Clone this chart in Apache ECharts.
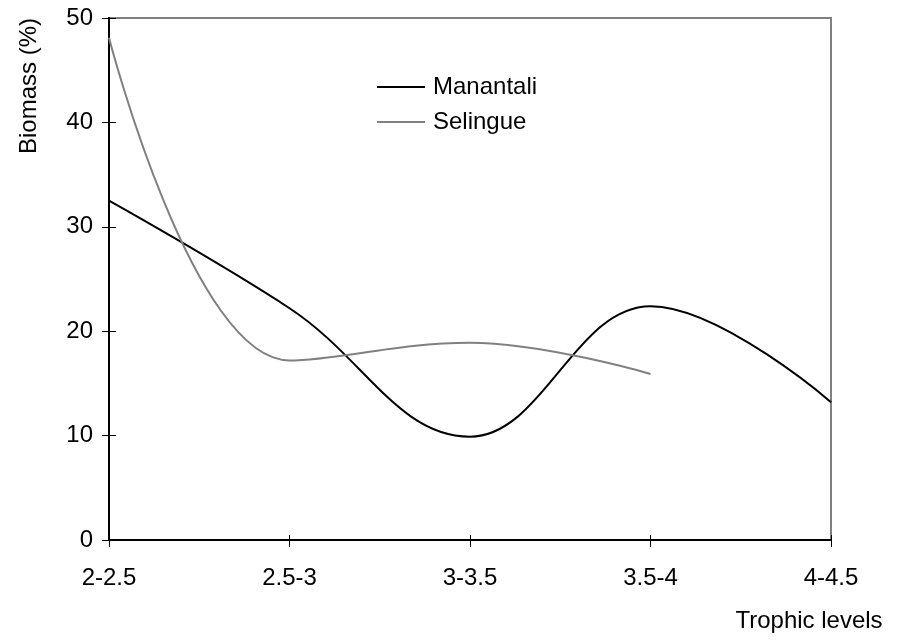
<!DOCTYPE html>
<html>
<head>
<meta charset="utf-8">
<script src="https://cdn.jsdelivr.net/npm/echarts@6/dist/echarts.min.js"></script>
<style>
  html, body { margin: 0; padding: 0; background: #fff; }
  #chart { width: 899px; height: 644px; }
</style>
</head>
<body>
<div id="chart"></div>
<script>
// trophic level classes on the x axis
var categories = ['2-2.5', '2.5-3', '3-3.5', '3.5-4', '4-4.5'];
// biomass (%) per class
var manantali = [32.5, 22.2, 9.9, 22.4, 13.2];
var selingue = [48.1, 17.2, 18.9, 15.9];

var font = 'Liberation Sans, Arial, sans-serif';

var myChart = echarts.init(document.getElementById('chart'));
var option = {
    backgroundColor: '#fff',
    animation: false,
    textStyle: { fontFamily: font, color: '#000' },
    grid: {
        left: 109, right: 68, top: 18, bottom: 104,
        show: true,
        borderColor: '#808080',
        borderWidth: 2,
        backgroundColor: 'transparent'
    },
    legend: {
        orient: 'vertical',
        left: 377,
        top: 75,
        icon: 'rect',
        itemWidth: 48,
        itemHeight: 2,
        itemGap: 11,
        padding: 0,
        textStyle: { fontFamily: font, fontSize: 24, color: '#000', padding: [0, 0, 0, 3] },
        data: ['Manantali', 'Selingue']
    },
    xAxis: [{
        type: 'category',
        data: categories,
        boundaryGap: false,
        axisLine: { lineStyle: { color: '#000', width: 2 } },
        axisTick: { length: 7, lineStyle: { color: '#000', width: 1 } },
        axisLabel: { fontFamily: font, fontSize: 24, color: '#000', margin: 26 },
        splitLine: { show: false }
    }, {
        // inner half of the crossing ticks
        type: 'category',
        data: categories,
        boundaryGap: false,
        position: 'bottom',
        axisLine: { show: false },
        axisTick: { inside: true, length: 5, lineStyle: { color: '#000', width: 1 } },
        axisLabel: { show: false },
        splitLine: { show: false }
    }],
    yAxis: [{
        type: 'value',
        min: 0, max: 50, interval: 10,
        axisLine: { show: true, lineStyle: { color: '#000', width: 2 } },
        axisTick: { show: true, length: 7, lineStyle: { color: '#000', width: 1 } },
        axisLabel: { fontFamily: font, fontSize: 24, color: '#000', margin: 16 },
        splitLine: { show: false }
    }, {
        type: 'value',
        min: 0, max: 50, interval: 10,
        position: 'left',
        axisLine: { show: false },
        axisTick: { show: true, inside: true, length: 7, lineStyle: { color: '#000', width: 1 } },
        axisLabel: { show: false },
        splitLine: { show: false }
    }],
    graphic: [{
        type: 'text',
        x: 29, y: 86,
        rotation: Math.PI / 2,
        style: {
            text: 'Biomass (%)',
            font: '24px ' + font,
            fill: '#000',
            align: 'center',
            verticalAlign: 'middle'
        }
    }, {
        type: 'text',
        x: 809, y: 621,
        style: {
            text: 'Trophic levels',
            font: '24px ' + font,
            fill: '#000',
            align: 'center',
            verticalAlign: 'middle'
        }
    }],
    series: [{
        name: 'Manantali',
        type: 'line',
        data: manantali,
        smooth: 0.4,
        symbol: 'none',
        lineStyle: { color: '#000', width: 2 },
        itemStyle: { color: '#000' }
    }, {
        name: 'Selingue',
        type: 'line',
        data: selingue,
        smooth: 0.4,
        symbol: 'none',
        lineStyle: { color: '#808080', width: 2 },
        itemStyle: { color: '#808080' }
    }]
};
option && myChart.setOption(option);
</script>
</body>
</html>
